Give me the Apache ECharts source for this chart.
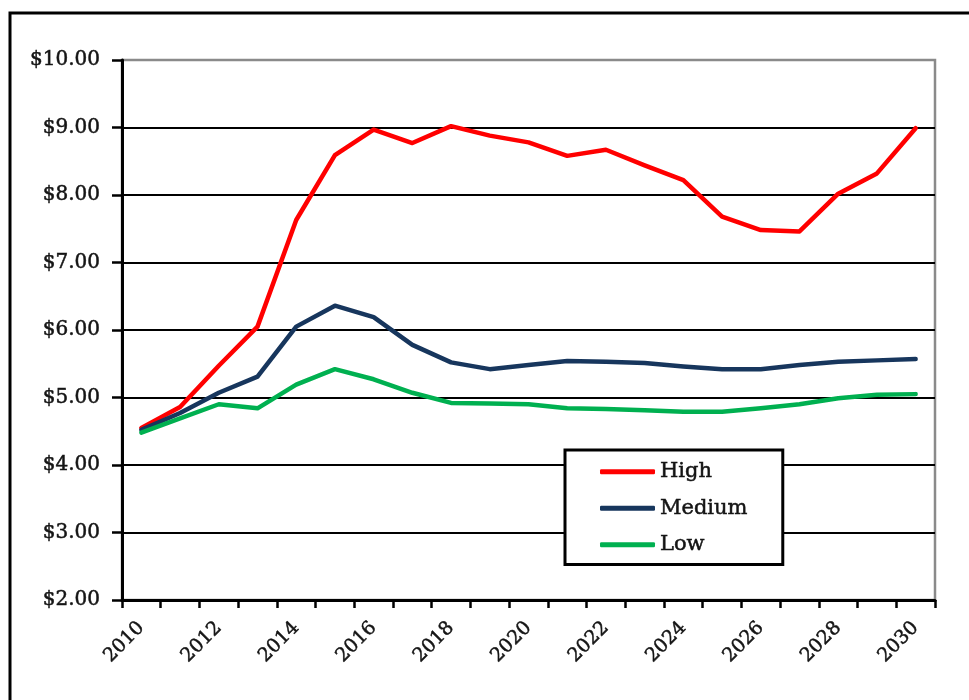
<!DOCTYPE html>
<html>
<head>
<meta charset="utf-8">
<title>Price scenarios 2010–2030</title>
<script src="https://cdn.jsdelivr.net/npm/echarts@6/dist/echarts.min.js"></script>
<style>
  html, body { margin: 0; padding: 0; background: #fff; }
  #chart { width: 969px; height: 700px; }
</style>
</head>
<body>
<div id="chart"></div>
<script>
// Years on the horizontal axis
const years = ['2010','2011','2012','2013','2014','2015','2016','2017','2018','2019','2020',
               '2021','2022','2023','2024','2025','2026','2027','2028','2029','2030'];

// Price path per scenario ($)
const high   = [4.55, 4.86, 5.47, 6.05, 7.63, 8.59, 8.97, 8.77, 9.02, 8.88, 8.78,
                8.58, 8.67, 8.44, 8.22, 7.68, 7.48, 7.46, 8.02, 8.32, 8.99];
const medium = [4.52, 4.77, 5.07, 5.31, 6.05, 6.36, 6.19, 5.78, 5.52, 5.42, 5.48,
                5.54, 5.53, 5.51, 5.46, 5.42, 5.42, 5.48, 5.53, 5.55, 5.57];
const low    = [4.48, 4.69, 4.90, 4.84, 5.19, 5.42, 5.27, 5.07, 4.92, 4.91, 4.90,
                4.84, 4.83, 4.81, 4.79, 4.79, 4.84, 4.90, 4.99, 5.04, 5.05];

// Value axis range and step
const yMin = 2, yMax = 10, yStep = 1;

const serif = 'DejaVu Serif';
const textColor = '#141414';
// a hairline outline in the text colour gives the glyphs a little more weight
const textWeight = { textBorderColor: textColor, textBorderWidth: 0.5 };

const chart = echarts.init(document.getElementById('chart'), null, { renderer: 'canvas' });

const mkSeries = (name, data, color) => ({
  name, type: 'line', data,
  symbol: 'none', smooth: false,
  lineStyle: { color, width: 4.5, cap: 'round', join: 'round' },
  itemStyle: { color },
  animation: false
});

chart.setOption({
  backgroundColor: '#fff',
  animation: false,
  grid: {
    left: 122, right: 34, top: 60, bottom: 100,
    show: true, borderColor: '#8a8a8a', borderWidth: 2.5, backgroundColor: 'transparent'
  },
  xAxis: {
    type: 'category',
    data: years,
    boundaryGap: true,
    axisLine: { lineStyle: { color: '#000', width: 3 } },
    axisTick: { show: true, interval: 0, length: 8, lineStyle: { color: '#000', width: 2.5 } },
    axisLabel: Object.assign({
      interval: 1, rotate: 45, margin: 25,
      fontFamily: serif, fontSize: 19, color: textColor
    }, textWeight),
    splitLine: { show: false }
  },
  yAxis: {
    type: 'value',
    min: yMin, max: yMax, interval: yStep,
    axisLine: { show: true, lineStyle: { color: '#000', width: 3 } },
    axisTick: { show: true, length: 10, lineStyle: { color: '#000', width: 2.5 } },
    axisLabel: Object.assign({
      margin: 22,
      fontFamily: serif, fontSize: 20, color: textColor,
      formatter: v => '$' + v.toFixed(2)
    }, textWeight),
    splitLine: { show: true, showMaxLine: false, lineStyle: { color: '#000', width: 2.2 } }
  },
  legend: {
    orient: 'vertical',
    left: 565, top: 450,
    padding: [11, 35, 9, 35],
    itemGap: 15,
    itemWidth: 55, itemHeight: 5,
    icon: 'roundRect',
    backgroundColor: '#fff',
    borderColor: '#000', borderWidth: 3, borderRadius: 0,
    textStyle: Object.assign({ fontFamily: serif, fontSize: 21, color: textColor }, textWeight),
    data: ['High', 'Medium', 'Low']
  },
  graphic: [{
    type: 'rect',
    silent: true,
    shape: { x: 10, y: 13, width: 1200, height: 900 },
    style: { fill: 'none', stroke: '#000', lineWidth: 3 },
    z: 100
  }],
  series: [
    mkSeries('High', high, '#ff0000'),
    mkSeries('Medium', medium, '#17365d'),
    mkSeries('Low', low, '#00b050')
  ]
});
</script>
</body>
</html>
